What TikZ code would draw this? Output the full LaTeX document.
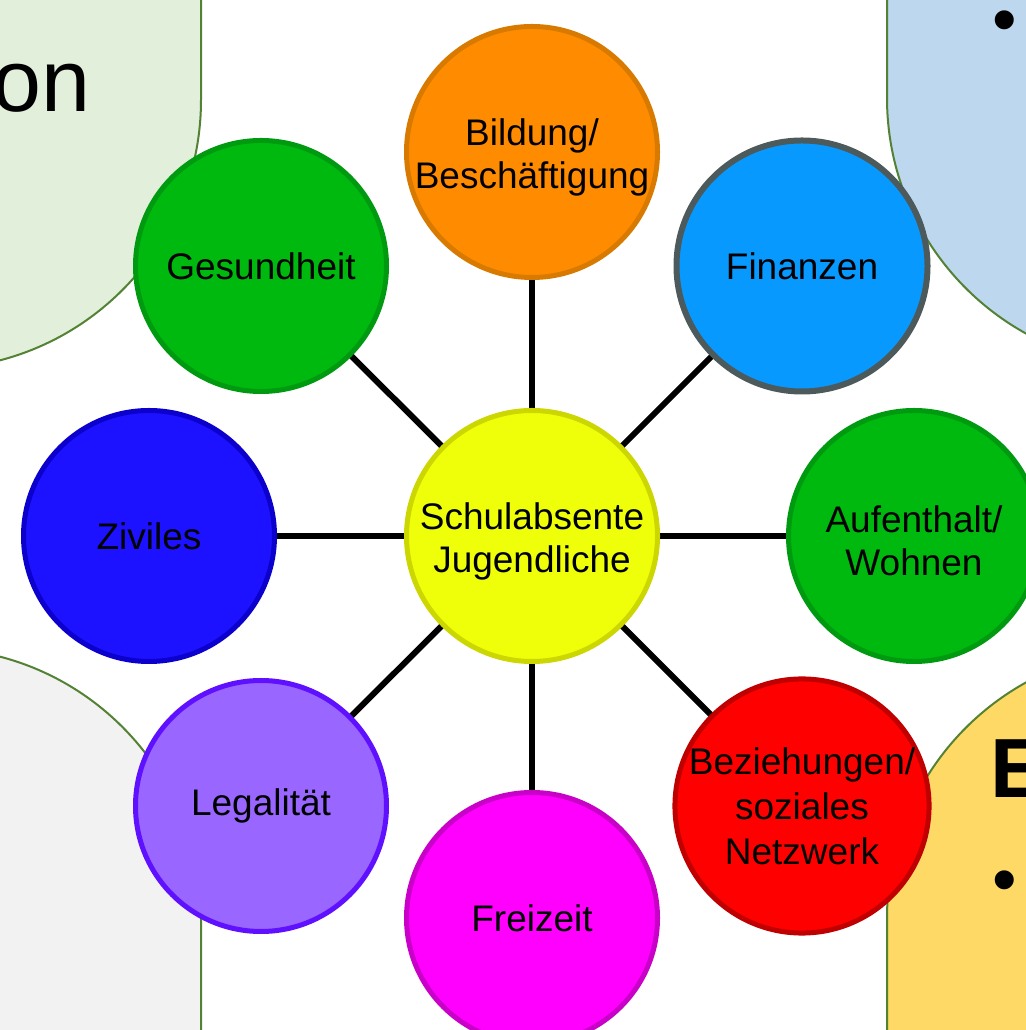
\documentclass[tikz,border=0pt]{standalone}
\usepackage{fontspec}
\setmainfont{Liberation Sans}
\definecolor{bgGreen}{HTML}{E2EFDA}
\definecolor{bgBlue}{HTML}{BDD7EE}
\definecolor{bgGray}{HTML}{F2F2F2}
\definecolor{bgYellow}{HTML}{FFD966}
\definecolor{bgEdge}{HTML}{548235}
\definecolor{fOrange}{HTML}{FF8C00}\definecolor{eOrange}{HTML}{D97A00}
\definecolor{fGreen}{HTML}{00B90E}\definecolor{eGreen}{HTML}{009A10}
\definecolor{fBlue}{HTML}{0899FF}\definecolor{eBlue}{HTML}{4D5A5C}
\definecolor{fZiv}{HTML}{1C12FF}\definecolor{eZiv}{HTML}{0C00CC}
\definecolor{fPurple}{HTML}{9966FF}\definecolor{ePurple}{HTML}{5E10FF}
\definecolor{fMag}{HTML}{FF00FF}\definecolor{eMag}{HTML}{C800C8}
\definecolor{fRed}{HTML}{FF0000}\definecolor{eRed}{HTML}{C00000}
\definecolor{fYel}{HTML}{EFFF0A}\definecolor{eYel}{HTML}{CCD600}
\newcommand{\topstrut}{\rule{0pt}{37pt}}
\pgfdeclarelayer{back}
\pgfdeclarelayer{lines}
\pgfsetlayers{back,lines,main}
\begin{document}
\begin{tikzpicture}[x=1pt,y=1pt,
  bub/.style={circle,draw,line width=5pt,minimum size=251pt,inner sep=0pt,align=center,
    font=\fontsize{37}{43}\selectfont,text=black},
  conn/.style={line width=6pt,black},
  bgshape/.style={draw=bgEdge,line width=2pt}]
\useasboundingbox (0,0) rectangle (1025,1030);

% circles
\node[bub,fill=fYel,draw=eYel] (c) at (532,494) {\topstrut Schulabsente\\Jugendliche};
\node[bub,fill=fOrange,draw=eOrange] (bild) at (532,878) {\topstrut Bildung/\\Besch\"aftigung};
\node[bub,fill=fGreen,draw=eGreen] (ges) at (261,764) {Gesundheit};
\node[bub,fill=fBlue,draw=eBlue,line width=6pt] (fin) at (802,764) {Finanzen};
\node[bub,fill=fZiv,draw=eZiv] (ziv) at (149,494) {Ziviles};
\node[bub,fill=fGreen,draw=eGreen] (auf) at (914,494) {\topstrut Aufenthalt/\\Wohnen};
\node[bub,fill=fPurple,draw=ePurple] (leg) at (261,224) {Legalit\"at};
\node[bub,fill=fMag,draw=eMag] (frei) at (532,112) {Freizeit};
\node[bub,fill=fRed,draw=eRed,font=\fontsize{37}{45}\selectfont] (bez) at (802,224) {Beziehungen/\\soziales\\Netzwerk};

\begin{pgfonlayer}{lines}
\foreach \n in {bild,ges,fin,ziv,auf,leg,frei,bez}
  \draw[conn] (c.center) -- (\n.center);
\end{pgfonlayer}

\begin{pgfonlayer}{back}
\draw[bgshape,fill=bgGreen] (-20,1050) -- (201,1050) -- (201,930)
  arc[start angle=0,end angle=-90,radius=269] -- (-80,661) -- (-80,1050) -- cycle;
\draw[bgshape,fill=bgBlue] (1100,1050) -- (887,1050) -- (887,932)
  arc[start angle=180,end angle=270,radius=269] -- (1200,663) -- (1200,1050) -- cycle;
\draw[bgshape,fill=bgGray] (-80,-20) -- (201,-20) -- (201,113)
  arc[start angle=0,end angle=90,radius=269] -- (-80,382) -- cycle;
\draw[bgshape,fill=bgYellow] (1200,-20) -- (887,-20) -- (887,112)
  arc[start angle=180,end angle=90,radius=269] -- (1200,381) -- cycle;
\end{pgfonlayer}

% texts on background shapes
\node[anchor=base east,inner sep=0pt,font=\fontsize{88}{100}\selectfont] (ton) at (91,918) {on};
\node[anchor=base west,inner sep=0pt,font=\fontsize{84}{96}\selectfont\bfseries] (te) at (990,232) {E};
\node[anchor=center,inner sep=0pt,font=\fontsize{70}{80}\selectfont] (b1) at (1005,1003) {•};
\node[anchor=center,inner sep=0pt,font=\fontsize{70}{80}\selectfont] (b2) at (1005,143) {•};
\end{tikzpicture}
\end{document}
